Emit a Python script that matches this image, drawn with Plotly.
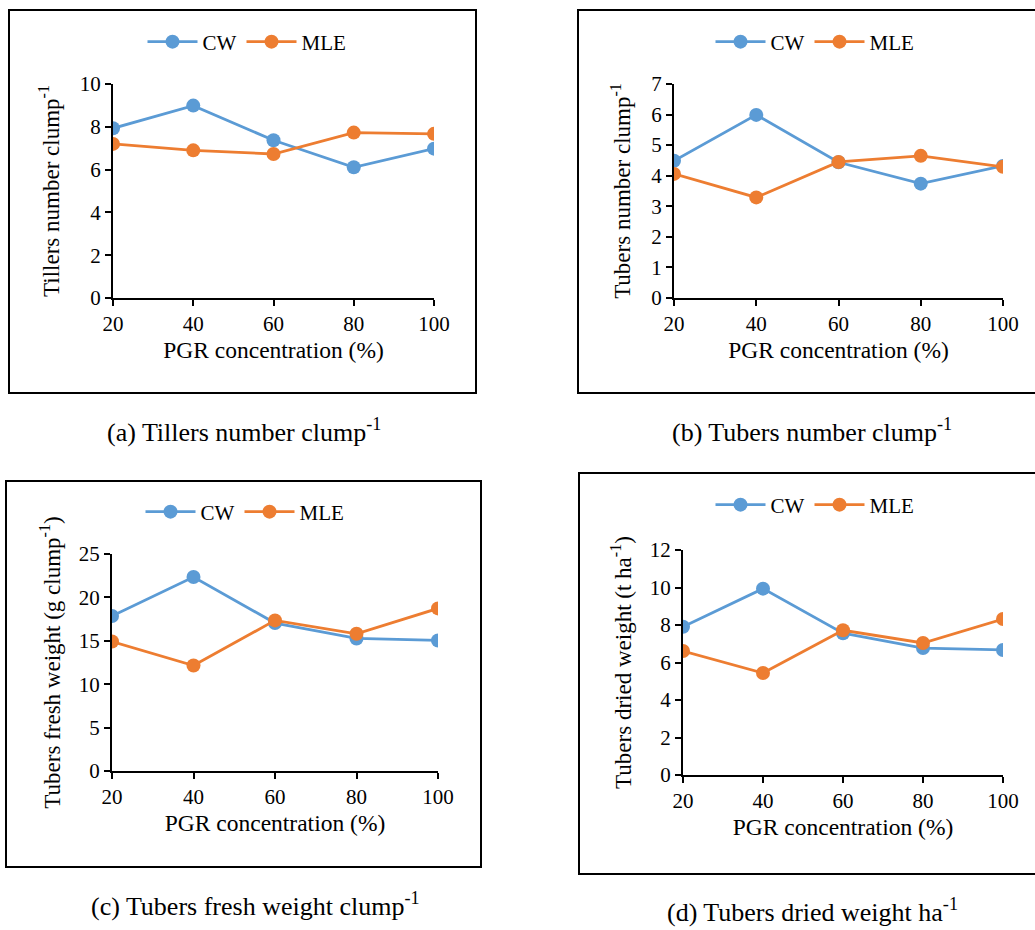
import plotly.graph_objects as go

# PGR concentration levels (%)
concentration = [20, 40, 60, 80, 100]

# (a) Tillers number per clump
tillers_cw = [7.93, 8.99, 7.37, 6.11, 6.98]
tillers_mle = [7.20, 6.90, 6.73, 7.73, 7.67]

# (b) Tubers number per clump
tubers_cw = [4.49, 5.99, 4.44, 3.74, 4.32]
tubers_mle = [4.06, 3.29, 4.45, 4.65, 4.29]

# (c) Tubers fresh weight (g per clump)
fresh_cw = [17.85, 22.35, 17.04, 15.27, 15.04]
fresh_mle = [14.92, 12.15, 17.35, 15.81, 18.73]

# (d) Tubers dried weight (t per ha)
dried_cw = [7.91, 9.94, 7.56, 6.77, 6.67]
dried_mle = [6.61, 5.44, 7.72, 7.04, 8.32]

captions = [
    "(a) Tillers number clump<sup>-1</sup>",
    "(b) Tubers number clump<sup>-1</sup>",
    "(c) Tubers fresh weight clump<sup>-1</sup>",
    "(d) Tubers dried weight ha<sup>-1</sup>",
]
y_titles = [
    "Tillers number clump<sup>-1</sup>",
    "Tubers number clump<sup>-1</sup>",
    "Tubers fresh weight (g clump<sup>-1</sup>)",
    "Tubers dried weight (t ha<sup>-1</sup>)",
]
y_ranges = [(0, 10, 2), (0, 7, 1), (0, 25, 5), (0, 12, 2)]
series = [
    (tillers_cw, tillers_mle),
    (tubers_cw, tubers_mle),
    (fresh_cw, fresh_mle),
    (dried_cw, dried_mle),
]

W, H = 1035, 930
FONT = "Liberation Serif"
CW_COLOR = "#5B9BD5"
MLE_COLOR = "#ED7D31"

# pixel layout of each panel: plot area (left, right, top, bottom),
# frame box (x0, y0, x1, y1), legend centre, caption centre, y-title standoff
panels = [
    dict(plot=(113, 434, 84, 298), box=(9, 10, 476, 393), legend=(247, 42),
         caption=(244, 430), standoff=14),
    dict(plot=(674, 1003, 84, 298), box=(578, 10, 1045, 393), legend=(815, 42),
         caption=(812, 430), standoff=14),
    dict(plot=(112, 438, 554, 771), box=(6, 481, 481, 867), legend=(245, 512),
         caption=(255, 904), standoff=12),
    dict(plot=(683, 1003, 550, 775), box=(579, 473, 1045, 874), legend=(815, 505),
         caption=(812, 910), standoff=12),
]


def px(x):
    return x / W


def py(y):
    return 1 - y / H


fig = go.Figure()
layout = dict(shapes=[], annotations=[])

for i, (p, (cw, mle)) in enumerate(zip(panels, series)):
    n = "" if i == 0 else str(i + 1)
    leg = "legend" if i == 0 else f"legend{i + 1}"
    fig.add_trace(go.Scatter(
        x=concentration, y=cw, name="CW", mode="lines+markers",
        line=dict(color=CW_COLOR, width=2.8),
        marker=dict(color=CW_COLOR, size=14),
        xaxis=f"x{n}", yaxis=f"y{n}", legend=leg,
    ))
    fig.add_trace(go.Scatter(
        x=concentration, y=mle, name="MLE", mode="lines+markers",
        line=dict(color=MLE_COLOR, width=2.8),
        marker=dict(color=MLE_COLOR, size=14),
        xaxis=f"x{n}", yaxis=f"y{n}", legend=leg,
    ))

    l, r, t, b = p["plot"]
    y0, y1, dy = y_ranges[i]
    layout[f"xaxis{n}"] = dict(
        domain=[px(l), px(r)], anchor=f"y{n}", range=[20, 100],
        tickmode="array", tickvals=concentration,
        ticks="outside", ticklen=6, tickwidth=1.5, tickcolor="black",
        showline=True, linecolor="black", linewidth=2, showgrid=False, zeroline=False,
        tickfont=dict(family=FONT, size=21, color="black"),
        title=dict(text="PGR concentration (%)", standoff=6,
                   font=dict(family=FONT, size=23.5, color="black")),
        automargin=False, fixedrange=True,
    )
    layout[f"yaxis{n}"] = dict(
        domain=[py(b), py(t)], anchor=f"x{n}", range=[y0, y1], dtick=dy,
        ticks="outside", ticklen=6, tickwidth=1.5, tickcolor="black",
        showline=True, linecolor="black", linewidth=2, showgrid=False, zeroline=False,
        tickfont=dict(family=FONT, size=21, color="black"),
        title=dict(text=y_titles[i], standoff=p["standoff"],
                   font=dict(family=FONT, size=23, color="black")),
        automargin=False, fixedrange=True,
    )
    lx, ly = p["legend"]
    layout[leg] = dict(
        orientation="h", x=px(lx), y=py(ly), xanchor="center", yanchor="middle",
        font=dict(family=FONT, size=21, color="black"),
        bgcolor="rgba(0,0,0,0)", itemwidth=50,
    )
    bx0, by0, bx1, by1 = p["box"]
    layout["shapes"].append(dict(
        type="rect", xref="paper", yref="paper",
        x0=px(bx0), x1=px(bx1), y0=py(by1), y1=py(by0),
        line=dict(color="black", width=2), fillcolor="rgba(0,0,0,0)",
    ))
    cx, cy = p["caption"]
    layout["annotations"].append(dict(
        text=captions[i], xref="paper", yref="paper", x=px(cx), y=py(cy),
        xanchor="center", yanchor="middle", showarrow=False,
        font=dict(family=FONT, size=26, color="black"),
    ))

# fixed margins: legends placed inside the paper must not shrink the panels
fig.update_layout(
    width=W, height=H,
    margin=dict(l=0, r=0, t=0, b=0, autoexpand=False),
    paper_bgcolor="white", plot_bgcolor="white",
    font=dict(family=FONT, color="black"),
    showlegend=True,
    **layout,
)

fig.write_html("out.html", config=dict(displayModeBar=False))
